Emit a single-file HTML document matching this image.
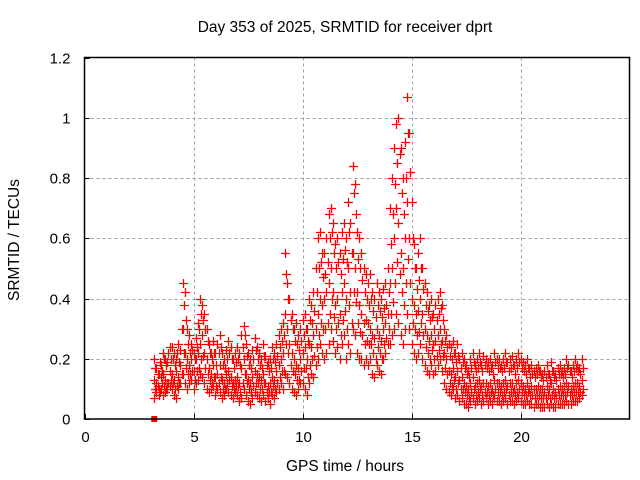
<!DOCTYPE html>
<html><head><meta charset="utf-8"><style>
body{margin:0;background:#fff;}
svg{display:block;font-family:"Liberation Sans",sans-serif;}
</style></head><body>
<svg id="chart" width="640" height="480" viewBox="0 0 640 480">
<text x="345" y="32" font-size="15.5" text-anchor="middle">Day 353 of 2025, SRMTID for receiver dprt</text>
<text x="345" y="471" font-size="15.5" text-anchor="middle">GPS time / hours</text>
<text transform="translate(19,240) rotate(-90)" font-size="15.5" text-anchor="middle">SRMTID / TECUs</text>
<g id="grid"></g>
<g id="ticks"></g>
<g id="marks"></g>
<rect x="84.5" y="57.5" width="545" height="361.5" fill="none" stroke="#000" stroke-width="1.5"/>
</svg>
<script>
const xTicks=[0,5,10,15,20];
const yTicks=[0,0.2,0.4,0.6,0.8,1,1.2];
const yTickLabels=["0","0.2","0.4","0.6","0.8","1","1.2"];
const tStart=3.2, tStep=0.1, tStartB=3.25;
const hiVals=[.2,.17,.15,.18,.22,.2,.19,.24,
.24,.22,.2,.25,.23,.45,.42,.3,.28,.25,
.22,.27,.32,.4,.38,.35,.3,.25,.22,.26,
.22,.25,.28,.22,.2,.23,.26,.24,.2,.22,
.24,.22,.28,.31,.25,.22,.2,.23,.27,.24,
.22,.2,.25,.21,.19,.2,.24,.22,.25,.28,
.3,.32,.55,.45,.4,.35,.3,.32,.28,.3,
.33,.35,.3,.4,.38,.42,.5,.6,.62,.55,
.55,.6,.68,.7,.65,.58,.6,.55,.62,.65,
.6,.72,.65,.84,.78,.62,.6,.55,.5,.48,
.45,.48,.42,.4,.45,.42,.4,.43,.45,.5,
.7,.8,.9,.98,1.0,.9,.8,.92,1.07,.95,
.72,.58,.5,.55,.6,.5,.45,.42,.38,.4,
.35,.38,.4,.42,.38,.3,.28,.25,.24,.26,
.22,.25,.2,.22,.2,.18,.16,.2,.22,.18,
.2,.22,.18,.21,.2,.19,.2,.18,.22,.2,
.2,.18,.2,.22,.19,.2,.21,.18,.2,.22,
.2,.19,.18,.2,.17,.18,.16,.17,.18,.16,
.15,.16,.18,.15,.19,.16,.15,.17,.18,.16,
.17,.2,.18,.16,.18,.2,.18,.17,.2];
const midVals=[.13,.12,.1,.14,.15,.13,.12,.16,
.15,.13,.16,.14,.18,.3,.22,.2,.18,.2,
.16,.2,.22,.25,.28,.22,.2,.17,.15,.18,
.14,.15,.18,.13,.12,.15,.16,.14,.12,.13,
.14,.12,.17,.2,.15,.13,.12,.14,.16,.15,
.14,.13,.15,.12,.11,.12,.14,.13,.16,.18,
.2,.22,.35,.3,.25,.22,.2,.18,.17,.2,
.22,.24,.2,.25,.24,.28,.3,.35,.4,.38,
.4,.42,.45,.5,.42,.38,.4,.35,.42,.45,
.4,.5,.42,.55,.5,.42,.38,.35,.32,.33,
.32,.3,.28,.27,.3,.28,.26,.3,.32,.35,
.45,.5,.6,.7,.65,.55,.5,.6,.72,.6,
.4,.38,.35,.36,.4,.35,.3,.28,.26,.28,
.25,.26,.28,.3,.26,.22,.2,.16,.15,.17,
.14,.16,.13,.14,.12,.11,.1,.12,.14,.11,
.12,.13,.11,.12,.12,.11,.12,.1,.13,.12,
.12,.11,.12,.13,.11,.12,.12,.1,.12,.13,
.12,.11,.1,.12,.1,.11,.1,.1,.11,.1,
.1,.09,.11,.1,.12,.1,.09,.1,.11,.1,
.11,.12,.11,.1,.11,.12,.12,.11,.13];
const loVals=[.07,.09,.08,.1,.08,.09,.1,.11,
.1,.08,.07,.1,.12,.15,.12,.1,.12,.13,
.1,.12,.13,.15,.14,.12,.1,.09,.1,.11,
.08,.1,.09,.07,.08,.1,.09,.08,.07,.09,
.08,.06,.07,.1,.08,.06,.05,.07,.09,.08,
.07,.06,.08,.06,.07,.05,.08,.07,.09,.1,
.12,.1,.15,.14,.12,.1,.09,.08,.1,.12,
.12,.1,.08,.12,.15,.14,.18,.2,.25,.22,
.2,.22,.25,.3,.26,.22,.24,.2,.25,.28,
.2,.25,.22,.3,.28,.22,.2,.2,.18,.2,
.18,.2,.15,.14,.18,.16,.15,.2,.22,.25,
.25,.28,.3,.35,.32,.28,.25,.3,.35,.3,
.25,.22,.2,.22,.25,.2,.18,.16,.15,.18,
.15,.16,.18,.2,.16,.12,.1,.09,.08,.1,
.07,.08,.06,.07,.05,.05,.04,.06,.07,.05,
.06,.07,.05,.06,.07,.05,.06,.05,.07,.06,
.06,.05,.06,.07,.05,.06,.06,.05,.06,.07,
.06,.05,.05,.06,.05,.05,.04,.05,.05,.04,
.04,.04,.05,.04,.05,.04,.04,.05,.05,.05,
.05,.06,.05,.05,.06,.06,.06,.07,.08];
const upperVals=[.17,.15,.19,.16,.2,.18,.22,.2,
.2,.18,.22,.19,.3,.38,.33,.25,.22,.23,
.2,.24,.3,.35,.33,.3,.26,.22,.2,.22,
.18,.22,.24,.18,.17,.2,.22,.2,.17,.19,
.2,.18,.24,.28,.21,.18,.17,.2,.23,.2,
.18,.17,.21,.18,.16,.17,.2,.19,.21,.24,
.26,.28,.48,.4,.33,.3,.26,.25,.23,.26,
.28,.3,.26,.33,.32,.36,.42,.5,.52,.47,
.48,.52,.6,.62,.55,.5,.52,.48,.53,.56,
.52,.62,.55,.75,.68,.53,.5,.46,.42,.4,
.38,.4,.36,.34,.38,.36,.34,.37,.38,.42,
.58,.68,.78,.85,.88,.75,.68,.8,.95,.82,
.6,.5,.43,.46,.5,.43,.38,.36,.33,.34,
.3,.33,.35,.37,.33,.26,.24,.21,.2,.22,
.19,.21,.17,.19,.17,.15,.14,.17,.19,.16,
.17,.19,.16,.18,.17,.16,.17,.15,.19,.17,
.17,.16,.17,.19,.16,.17,.18,.15,.17,.19,
.17,.16,.15,.17,.14,.15,.14,.15,.16,.14,
.13,.14,.15,.13,.16,.14,.13,.15,.15,.14,
.15,.17,.16,.14,.16,.17,.16,.15,.17];
const lowerVals=[.1,.11,.09,.12,.11,.1,.12,.13,
.12,.1,.11,.12,.15,.22,.17,.15,.15,.16,
.13,.16,.17,.2,.21,.17,.15,.13,.12,.14,
.11,.12,.14,.1,.1,.12,.13,.11,.1,.11,
.11,.09,.12,.15,.12,.1,.09,.11,.12,.12,
.1,.1,.12,.09,.09,.09,.11,.1,.12,.14,
.16,.16,.25,.22,.18,.16,.15,.13,.13,.16,
.17,.17,.14,.18,.2,.21,.24,.28,.32,.3,
.3,.32,.35,.4,.34,.3,.32,.28,.33,.36,
.3,.38,.32,.42,.39,.32,.29,.28,.25,.26,
.25,.25,.22,.2,.24,.22,.2,.25,.27,.3,
.35,.39,.45,.52,.48,.42,.38,.45,.53,.45,
.32,.3,.28,.29,.32,.28,.24,.22,.2,.23,
.2,.21,.23,.25,.21,.17,.15,.12,.11,.13,
.1,.12,.1,.1,.09,.08,.07,.09,.1,.08,
.09,.1,.08,.09,.09,.08,.09,.08,.1,.09,
.09,.08,.09,.1,.08,.09,.09,.08,.09,.1,
.09,.08,.08,.09,.08,.08,.07,.08,.08,.07,
.07,.07,.08,.07,.08,.07,.07,.08,.08,.08,
.08,.09,.08,.08,.09,.09,.09,.09,.1];
const zeroMarkT=[3.2], zeroMarkV=[0];

const NS="http://www.w3.org/2000/svg";
const X0=84.5,X1=629.5,Y0=419,Y1=57.5;
function xs(t){return X0+(t/25)*(X1-X0);}
function ys(v){return Y0-(v/1.2)*(Y0-Y1);}
const grid=document.getElementById('grid'),ticks=document.getElementById('ticks'),marks=document.getElementById('marks');
function mk(tag,attrs,parent){const e=document.createElementNS(NS,tag);for(const k in attrs)e.setAttribute(k,attrs[k]);parent.appendChild(e);return e;}
yTicks.forEach((v,i)=>{
  const y=Math.round(ys(v))+0.5;
  if(i>0&&i<yTicks.length-1){const g=mk('line',{x1:X0,x2:X1,y1:y,y2:y,stroke:'#a0a0a0','stroke-dasharray':'3,3'},grid);
  
  }
  const tk=mk('line',{x1:X0,x2:X0+5,y1:y,y2:y,stroke:'#000'},ticks);
  
  
  const tx=mk('text',{x:X0-14,y:y+5,'font-size':'15','text-anchor':'end'},ticks);tx.textContent=yTickLabels[i];
  
  
});
xTicks.forEach((t,i)=>{
  const x=Math.round(xs(t))+0.5;
  if(i>0){const g=mk('line',{x1:x,x2:x,y1:Y1,y2:Y0,stroke:'#a0a0a0','stroke-dasharray':'3,3'},grid);
  
  }
  const tk=mk('line',{x1:x,x2:x,y1:Y0,y2:Y0-5,stroke:'#000'},ticks);
  
  
  const tx=mk('text',{x:x,y:442,'font-size':'15','text-anchor':'middle'},ticks);tx.textContent=String(t);
  
  
});
let d='';
function addSeries(arr,t0){
  arr.forEach((v,i)=>{const t=t0+i*tStep;const x=Math.round(xs(t))+0.5,y=Math.round(ys(v))+0.5;
    d+=`M${x-4.5},${y}h9M${x},${y-4.5}v9`;});
}
addSeries(hiVals,tStart);addSeries(midVals,tStart);addSeries(loVals,tStart);
addSeries(upperVals,tStartB);addSeries(lowerVals,tStartB);
const p=mk('path',{d:d,stroke:'#ff0000','stroke-width':'1.3',fill:'none'},marks);


zeroMarkT.forEach((t,i)=>{
  const r=mk('rect',{x:xs(t)-3,y:ys(zeroMarkV[i])-3,width:6,height:6,fill:'#ff0000'},marks);
  
  
});
</script>
</body></html>
